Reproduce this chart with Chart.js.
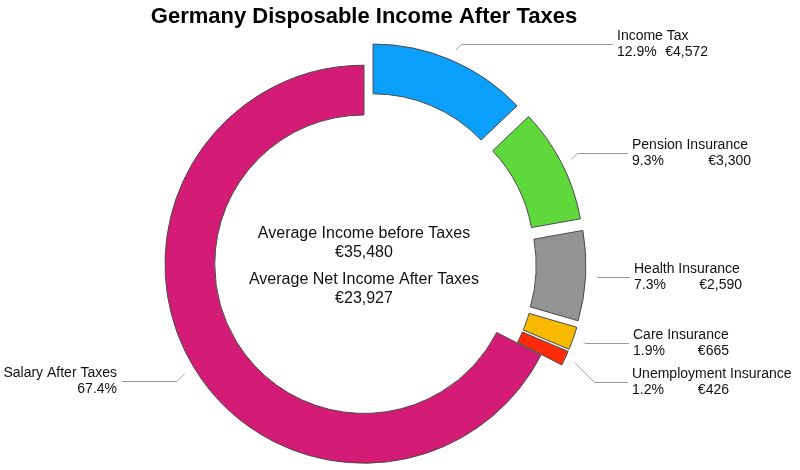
<!DOCTYPE html>
<html>
<head>
<meta charset="utf-8">
<script src="https://cdn.jsdelivr.net/npm/chart.js@4.4.1/dist/chart.umd.min.js"></script>
<style>
body{margin:0;background:#fff;}
</style>
</head>
<body>
<canvas id="incomeChart" width="800" height="470"></canvas>
<script>
const categories = ["Income Tax", "Pension Insurance", "Health Insurance", "Care Insurance", "Unemployment Insurance", "Salary After Taxes"];
const amounts = [4572, 3300, 2590, 665, 426, 23927];
const shares = [12.9, 9.3, 7.3, 1.9, 1.2, 67.4];
const sliceColors = ["#0a9ffb", "#5fd83b", "#939393", "#f8ba00", "#fe2a0a", "#d41b76"];

const FONT = "'Liberation Sans', Arial, Helvetica, sans-serif";
const SALARY = categories.indexOf("Salary After Taxes");
const EXPLODE = 23;      // px every slice but the salary one is pushed out
const LEADER_GAP = 11;   // px between slice edge and start of leader line

// callout placement: y of the leader line, x of the text, right edge of the amount
const callouts = [
    { y: 44, x: 617, right: 708 },
    { y: 153, x: 632, right: 751 },
    { y: 277, x: 634, right: 742 },
    { y: 343, x: 633, right: 729 },
    { y: 382, x: 632, right: 729 },
    { y: 381, x: 117, right: null, left: true }
];

const euro = v => "€" + v.toLocaleString("en-US");
const pushOf = i => (i === SALARY ? 0 : EXPLODE);

// move the exploded slices out along their middle angle
const explodePlugin = {
    id: "explode",
    afterDatasetUpdate(chart, args){
        args.meta.data.forEach((arc, i) => {
            const push = pushOf(i);
            if(!push || arc._exploded) return;
            const draw = arc.draw.bind(arc);
            arc.draw = function(ctx, area){
                const mid = (arc.startAngle + arc.endAngle) / 2;
                ctx.save();
                ctx.translate(Math.cos(mid) * push, Math.sin(mid) * push);
                draw(ctx, area);
                ctx.restore();
            };
            arc._exploded = true;
        });
    }
};

const calloutPlugin = {
    id: "callouts",
    afterDatasetsDraw(chart){
        const ctx = chart.ctx;
        const arcs = chart.getDatasetMeta(0).data;
        ctx.save();
        ctx.font = "14px " + FONT;
        ctx.textBaseline = "middle";
        ctx.fillStyle = "#111";
        ctx.strokeStyle = "#9a9a9a";
        ctx.lineWidth = 1;
        arcs.forEach((arc, i) => {
            const c = callouts[i];
            const mid = (arc.startAngle + arc.endAngle) / 2;
            const r = arc.outerRadius + pushOf(i) + LEADER_GAP;
            const sx = arc.x + Math.cos(mid) * r;
            const sy = arc.y + Math.sin(mid) * r;
            const dir = c.left ? -1 : 1;
            const ly = Math.round(c.y) + 0.5;
            const kx = sx + dir * Math.abs(ly - sy);
            const ex = c.left ? c.x + 5 : c.x - 4;
            ctx.beginPath();
            ctx.moveTo(sx, sy);
            ctx.lineTo(kx, ly);
            ctx.lineTo(ex, ly);
            ctx.stroke();

            const pct = shares[i].toFixed(1) + "%";
            if(c.left){
                ctx.textAlign = "right";
                ctx.fillText(categories[i], c.x, c.y - 8);
                ctx.fillText(pct, c.x, c.y + 8);
            } else {
                ctx.textAlign = "left";
                ctx.fillText(categories[i], c.x, c.y - 8);
                ctx.fillText(pct, c.x, c.y + 8);
                ctx.textAlign = "right";
                ctx.fillText(euro(amounts[i]), c.right, c.y + 8);
            }
        });
        ctx.restore();
    }
};

const centerPlugin = {
    id: "centerText",
    afterDatasetsDraw(chart){
        const ctx = chart.ctx;
        const arc = chart.getDatasetMeta(0).data[0];
        const total = amounts.reduce((a, b) => a + b, 0);
        const lines = [
            ["Average Income before Taxes", -31],
            [euro(total), -12],
            ["Average Net Income After Taxes", 15],
            [euro(amounts[SALARY]), 34]
        ];
        ctx.save();
        ctx.font = "16px " + FONT;
        ctx.fillStyle = "#111";
        ctx.textAlign = "center";
        ctx.textBaseline = "middle";
        lines.forEach(([text, dy]) => ctx.fillText(text, arc.x, arc.y + dy));
        ctx.restore();
    }
};

const incomeChart = new Chart(
    document.getElementById("incomeChart"),
    {
        type: "doughnut",
        data: {
            labels: categories,
            datasets: [{
                data: amounts,
                backgroundColor: sliceColors,
                borderColor: "#4a4a4a",
                borderWidth: 1,
                borderJoinStyle: "miter",
                clip: false
            }]
        },
        options: {
            responsive: false,
            animation: false,
            devicePixelRatio: 1,
            radius: 199,
            cutout: "75%",
            layout: {
                padding: { left: 0, right: 72, top: 0, bottom: 0 }
            },
            plugins: {
                legend: { display: false },
                tooltip: { enabled: false },
                title: {
                    display: true,
                    text: "Germany Disposable Income After Taxes",
                    color: "#000",
                    font: { family: FONT, size: 22, weight: "bold" },
                    padding: { top: 4, bottom: 28 }
                }
            }
        },
        plugins: [explodePlugin, calloutPlugin, centerPlugin]
    }
);
</script>
</body>
</html>
